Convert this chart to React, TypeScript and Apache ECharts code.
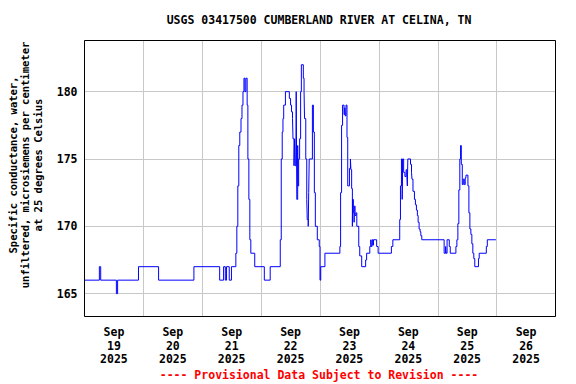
import React, { useEffect, useRef } from "react";
import * as echarts from "echarts";

// Hours since 2025-09-19 00:00 at which the reading changes
const hours = [
  0, 6.06, 6.6, 13.0, 13.5, 22.0, 30.2, 44.6, 55.1, 56.7, 57.4, 57.9, 59.0, 59.9,
  61.7, 62.1, 62.5, 62.9, 63.3, 63.8, 64.2, 64.6, 65.0, 65.4, 65.8, 66.3, 66.6, 67.0,
  67.4, 67.8, 69.4, 73.3, 75.7, 79.8, 80.2, 80.6, 80.9, 81.2, 81.9, 83.5, 84.0, 84.4,
  84.8, 85.0, 85.4, 85.65, 85.9, 86.2, 86.3, 86.55, 86.9, 87.0, 87.3, 87.7, 88.1, 88.4,
  89.2, 89.5, 89.7, 90.2, 90.6, 90.8, 91.2, 91.4, 91.6, 92.9, 93.3, 93.7, 94.1, 94.9,
  95.7, 96.0, 96.3, 98.0, 104.1, 104.4, 104.8, 105.2, 105.8, 106.1, 106.3, 106.6, 107.0,
  107.3, 108.0, 108.4, 108.6, 108.9, 109.2, 109.3, 109.6, 109.9, 110.0, 110.3, 110.7,
  111.0, 111.8, 112.2, 113.0, 114.6, 115.0, 116.3, 116.7, 116.9, 117.2, 117.5, 117.8,
  119.1, 119.7, 125.1, 125.7, 128.5, 128.8, 129.2, 129.5, 129.7, 130.1, 130.6, 131.1,
  131.4, 131.6, 131.8, 132.9, 133.3, 133.5, 133.9, 134.5, 134.9, 135.3, 135.7, 136.0,
  136.4, 136.8, 137.1, 137.5, 146.6, 147.2, 147.4, 147.8, 148.7, 149.1, 151.4, 151.8,
  152.2, 152.6, 153.0, 153.3, 153.6, 154.0, 154.4, 154.8, 155.2, 155.5, 156.3, 156.7,
  157.1, 157.5, 157.9, 158.3, 158.7, 159.1, 160.6, 160.9, 163.8, 164.2, 167.7,
];

// Specific conductance, microsiemens per centimeter
const conductance = [
  166, 167, 166, 165, 166, 167, 166, 167, 166, 167, 166, 167, 166, 167,
  168, 170, 173, 176, 177, 178, 179, 180, 181, 180, 181, 179, 175, 172,
  169, 168, 167, 166, 167, 169, 175, 177, 178, 179, 180, 179.5, 179, 178.5,
  178, 176.5, 174.5, 176.5, 174.5, 176, 180, 172, 176, 173, 175, 176.5, 180, 182,
  181, 180, 178, 175, 172, 170.5, 170, 172.5, 175, 179, 177, 172.5, 170, 169,
  168.5, 166, 167, 168, 168.5, 172.5, 177.5, 179, 178.3, 178.8, 178.2, 179, 176.6,
  173, 174.3, 175, 174.2, 172.8, 170, 172, 171, 170.3, 171.5, 170.8, 171,
  170, 168.5, 167.8, 167, 167.5, 168, 168.5, 169, 168.5, 169, 168.6, 169,
  168.5, 168, 168.5, 169, 170.5, 173, 175, 172, 175, 174, 173.7, 174.2,
  173.8, 173, 175, 174.6, 174, 173.5, 172.6, 172, 171.6, 171.2, 170.8, 170.3,
  169.8, 169.6, 169.3, 169, 168, 168.5, 168, 169, 168.5, 168, 168.5, 169,
  170.2, 172.7, 175, 176, 174.6, 173.1, 173.5, 173.1, 173.6, 173.8, 173, 171,
  169.8, 169.4, 168.7, 168, 167.6, 167, 167.6, 168, 168.5, 169, 169,
];

const xTickLabels = [
  "Sep\n19\n2025", "Sep\n20\n2025", "Sep\n21\n2025", "Sep\n22\n2025",
  "Sep\n23\n2025", "Sep\n24\n2025", "Sep\n25\n2025", "Sep\n26\n2025",
];
const yTickValues = [165, 170, 175, 180];

const titleText = "USGS 03417500 CUMBERLAND RIVER AT CELINA, TN";
const yAxisName =
  "Specific conductance, water,\nunfiltered, microsiemens per centimeter\nat 25 degrees Celsius";
const footerText = "---- Provisional Data Subject to Revision ----";

const FONT = "'DejaVu Sans Mono', monospace";

export default function App() {
  const ref = useRef<HTMLDivElement>(null);

  useEffect(() => {
    if (!ref.current) return;
    const chart = echarts.init(ref.current, undefined, { renderer: "svg" });
    const data = hours.map((h, i) => [h, conductance[i]]);
    chart.setOption({
      animation: false,
      backgroundColor: "#ffffff",
      grid: {
        left: 84.5,
        right: 20.5,
        top: 40.5,
        bottom: 67.5,
        show: false,
      },
      xAxis: [
        {
          type: "value",
          min: 0,
          max: 192,
          interval: 24,
          axisLine: { show: false },
          axisTick: { show: false },
          axisLabel: { show: false },
          splitLine: { show: true, lineStyle: { color: "#c8c8c8", width: 1 } },
        },
        {
          type: "value",
          min: 0,
          max: 192,
          interval: 12,
          position: "bottom",
          axisLine: { show: false },
          axisTick: { show: false },
          splitLine: { show: false },
          axisLabel: {
            show: true,
            margin: 9,
            fontFamily: FONT,
            fontWeight: "bold",
            fontSize: 11.5,
            lineHeight: 13.5,
            color: "#000000",
            formatter: (v: number) => {
              if (v % 24 !== 12) return "";
              const idx = (v - 12) / 24;
              return xTickLabels[idx] ?? "";
            },
          },
        },
      ],
      yAxis: {
        type: "value",
        min: 163.3,
        max: 183.8,
        splitNumber: 5,
        axisLine: { show: false },
        axisTick: { show: false },
        splitLine: { show: true, lineStyle: { color: "#c8c8c8", width: 1 } },
        axisLabel: {
          show: true,
          margin: 7,
          fontFamily: FONT,
          fontWeight: "bold",
          fontSize: 11.5,
          color: "#000000",
          showMinLabel: false,
          showMaxLabel: false,
          formatter: (v: number) =>
            yTickValues.some((t) => Math.abs(t - v) < 1e-6) ? String(Math.round(v)) : "",
        },
      },
      series: [
        {
          type: "line",
          xAxisIndex: 0,
          step: "end",
          data,
          showSymbol: false,
          symbol: "none",
          lineStyle: { color: "#0000ff", width: 1 },
          itemStyle: { color: "#0000ff" },
          z: 3,
        },
      ],
      graphic: [
        {
          type: "rect",
          z: 100,
          silent: true,
          shape: { x: 84.5, y: 40.5, width: 471, height: 276 },
          style: { fill: "none", stroke: "#000000", lineWidth: 1 },
        },
        {
          type: "text",
          x: 319,
          y: 20,
          style: {
            text: titleText,
            fontFamily: FONT,
            fontWeight: "bold",
            fontSize: 11.5,
            fill: "#000000",
            align: "center",
            verticalAlign: "middle",
          },
        },
        {
          type: "text",
          x: 25,
          y: 165,
          rotation: Math.PI / 2,
          style: {
            text: yAxisName,
            fontFamily: FONT,
            fontWeight: "bold",
            fontSize: 10.5,
            lineHeight: 12.5,
            fill: "#000000",
            align: "center",
            verticalAlign: "middle",
          },
        },
        {
          type: "text",
          x: 319,
          y: 375,
          style: {
            text: footerText,
            fontFamily: FONT,
            fontWeight: "bold",
            fontSize: 11.5,
            fill: "#ff0000",
            align: "center",
            verticalAlign: "middle",
          },
        },
      ],
    });
    return () => chart.dispose();
  }, []);

  return (
    <div
      ref={ref}
      style={{ position: "fixed", left: 0, top: 0, width: 576, height: 384, background: "#fff" }}
    />
  );
}
